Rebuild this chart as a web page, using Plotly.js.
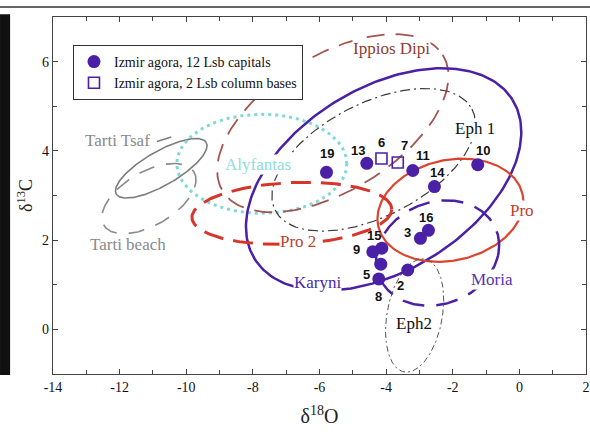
<!DOCTYPE html>
<html>
<head>
<meta charset="utf-8">
<script src="https://cdn.plot.ly/plotly-3.0.1.min.js"></script>
<style>
html,body{margin:0;padding:0;background:#fff;}
#chart{width:590px;height:438px;}
</style>
</head>
<body>
<div id="chart"></div>
<script>
// ---- Sample data ----
const capitalIds = ['19','13','11','10','14','16','3','15','9','5','8','2'];
const capitalX   = [-5.79,-4.58,-3.20,-1.25,-2.55,-2.73,-2.97,-4.13,-4.40,-4.16,-4.22,-3.35];
const capitalY   = [3.52, 3.72, 3.56, 3.69, 3.20, 2.22, 2.04, 1.82, 1.74, 1.46, 1.13, 1.33];

const baseIds = ['6','7'];
const baseX   = [-4.14,-3.65];
const baseY   = [3.83, 3.74];

// ---- Quarry fields: ellipse centre and two conjugate half-axes (data units) ----
const fieldNames = ['Tarti Tsaf','Tarti beach','Alyfantas','Ippios Dipi','Karyni','Eph 1','Pro','Pro 2','Moria','Eph2'];
const fieldCx = [-10.75,-11.12,-7.73,-5.60,-4.075,-4.375,-2.07,-6.83,-2.456,-3.145];
const fieldCy = [ 3.61,  2.93, 3.71, 4.62, 3.36,  3.80,  2.67, 2.60, 1.71,  0.311];
const fieldUx = [ 1.35,  1.35, 2.55, 3.30, 3.865, 2.95,  2.165,3.00, 1.83,  0.84];
const fieldUy = [ 0.58,  0.60, 0.00, 1.53, 1.79,  1.14,  0.362,0.09, 0.00,  0.00];
const fieldVx = [ 0.26,  0.42, 0.00, 1.08, 1.463, 0.79,  0.333,0.00, 0.27,  0.24];
const fieldVy = [-0.33, -0.51, 1.11,-1.28,-1.733,-1.12, -1.098,0.69, 1.18,  1.27];

// label positions for the fields (data coords)
const fieldLabelX = [-12.05,-11.75,-7.85,-3.84,-6.05,-1.32,0.09,-6.65,-0.81,-3.15];
const fieldLabelY = [ 4.24,  1.91, 3.69, 6.29, 1.04, 4.51,2.67, 1.98, 1.11, 0.13];

// leader from the "Tarti Tsaf" label to its ellipse
const tsafLeaderX = [-10.88,-10.45];
const tsafLeaderY = [4.21, 4.31];

// axis ticks
const xTickVals = [-14,-12,-10,-8,-6,-4,-2,0,2];
const xTickText = ['-14','-12','-10','-8','-6','-4','-2','0','2'];
const yTickVals = [0,2,4,6];
const yTickText = ['0','2','4','6'];

// ---- styles ----
const serif = 'Liberation Serif';
const purple = '#4a20a6';
const fieldStyle = {
  'Tarti Tsaf':  {color:'#7d7d7d', width:1.6, dash:'solid', text:'#8a8a8a', bg:true},
  'Tarti beach': {color:'#8a8a8a', width:1.6, dash:'16px,12px', text:'#8a8a8a', bg:true},
  'Alyfantas':   {color:'#7fd9d6', width:3,   dash:'3px,4px', text:'#8fdcda', bg:true},
  'Ippios Dipi': {color:'#a4544f', width:1.8, dash:'18px,11px', text:'#8e3d30', bg:true},
  'Karyni':      {color:purple,    width:2.5, dash:'solid', text:'#4a2aa8', bg:true},
  'Eph 1':       {color:'#3a3a3a', width:1.2, dash:'10px,4px,2px,4px', text:'#111', bg:true},
  'Pro':         {color:'#dd4430', width:2.2, dash:'solid', text:'#c53a2c', bg:true},
  'Pro 2':       {color:'#d8352a', width:3,   dash:'20px,10px', text:'#b8412e', bg:true},
  'Moria':       {color:purple,    width:2.5, dash:'22px,12px', text:'#5436b0', bg:true},
  'Eph2':        {color:'#555555', width:1,   dash:'6px,3px,2px,3px', text:'#111', bg:false}
};
const labelShift = {
  '19':[0,-19],'13':[-9,-13],'6':[0,-16],'7':[7,-17],'11':[10,-15],'10':[5,-14],
  '14':[3,-14],'16':[-2,-13],'3':[-13,-6],'15':[-8,-13],'9':[-16,-2],'5':[-14,10],
  '8':[0,18],'2':[-7,15]
};

const traces = [];
const N = 240;
fieldNames.forEach((name,i)=>{
  const xs=[], ys=[];
  for(let k=0;k<=N;k++){
    const t = 2*Math.PI*k/N;
    xs.push(fieldCx[i] + Math.cos(t)*fieldUx[i] + Math.sin(t)*fieldVx[i]);
    ys.push(fieldCy[i] + Math.cos(t)*fieldUy[i] + Math.sin(t)*fieldVy[i]);
  }
  const s = fieldStyle[name];
  traces.push({x:xs, y:ys, type:'scatter', mode:'lines', name:name, showlegend:false,
    hoverinfo:'skip', line:{color:s.color, width:s.width, dash:s.dash}});
});
traces.push({x:tsafLeaderX, y:tsafLeaderY, type:'scatter', mode:'lines', showlegend:false,
  hoverinfo:'skip', line:{color:'#7d7d7d', width:1.6}});

traces.push({x:capitalX, y:capitalY, type:'scatter', mode:'markers',
  name:'Izmir agora, 12 Lsb capitals',
  marker:{symbol:'circle', size:13, color:purple, line:{width:0}}});
traces.push({x:baseX, y:baseY, type:'scatter', mode:'markers',
  name:'Izmir agora, 2 Lsb column bases',
  marker:{symbol:'square-open', size:11, color:purple, line:{width:1.6, color:purple}}});

const annotations = [];
fieldNames.forEach((name,i)=>{
  const s = fieldStyle[name];
  annotations.push({x:fieldLabelX[i], y:fieldLabelY[i], xref:'x', yref:'y', text:name,
    showarrow:false, font:{family:serif, size:17, color:s.text},
    bgcolor: s.bg ? '#ffffff' : 'rgba(0,0,0,0)', borderpad:0});
});
function addPointLabels(ids, xs, ys){
  ids.forEach((id,i)=>{
    const sh = labelShift[id];
    annotations.push({x:xs[i], y:ys[i], xref:'x', yref:'y', text:'<b>'+id+'</b>', showarrow:false,
      xshift:sh[0], yshift:-sh[1],
      font:{family:'Liberation Sans', size:13, color:'#111'}});
  });
}
addPointLabels(capitalIds, capitalX, capitalY);
addPointLabels(baseIds, baseX, baseY);

const axisCommon = {
  showline:true, linecolor:'#444', linewidth:1.3, mirror:'allticks',
  ticks:'inside', ticklen:5, tickwidth:1.2, tickcolor:'#444',
  showgrid:false, zeroline:false, automargin:false,
  tickfont:{family:serif, size:14, color:'#111'},
  minor:{dtick:1, ticks:'inside', ticklen:4, tickwidth:1, tickcolor:'#444', showgrid:false}
};

const layout = {
  width:590, height:438,
  margin:{l:53, r:4, t:17, b:64},
  paper_bgcolor:'#ffffff', plot_bgcolor:'#ffffff',
  showlegend:true,
  legend:{x:0.0375, y:0.9216, xanchor:'left', yanchor:'top',
    bgcolor:'#ffffff', bordercolor:'#333', borderwidth:1,
    font:{family:serif, size:14, color:'#111'},
    itemwidth:30, tracegroupgap:0},
  xaxis:Object.assign({}, axisCommon, {range:[-14,2], tickmode:'array', tickvals:xTickVals, ticktext:xTickText,
    automargin:'bottom',
    title:{text:'δ<sup>18</sup>O', standoff:15, font:{family:serif, size:20, color:'#222'}}}),
  yaxis:Object.assign({}, axisCommon, {range:[-1,7], tickmode:'array', tickvals:yTickVals, ticktext:yTickText,
    title:{text:'δ<sup>13</sup>C', standoff:4, font:{family:serif, size:18, color:'#222'}}}),
  annotations:annotations,
  shapes:[
    {type:'rect', xref:'paper', yref:'paper', x0:-0.0994, x1:-0.0805, y0:-0.003, y1:1.008,
      fillcolor:'#111', line:{width:0}, layer:'above'},
    {type:'line', xref:'paper', yref:'paper', x0:-0.0994, x1:1.01, y0:1.028, y1:1.028,
      line:{color:'#333', width:1.5}}
  ]
};

Plotly.newPlot('chart', traces, layout, {displayModeBar:false, staticPlot:true});
</script>
</body>
</html>
